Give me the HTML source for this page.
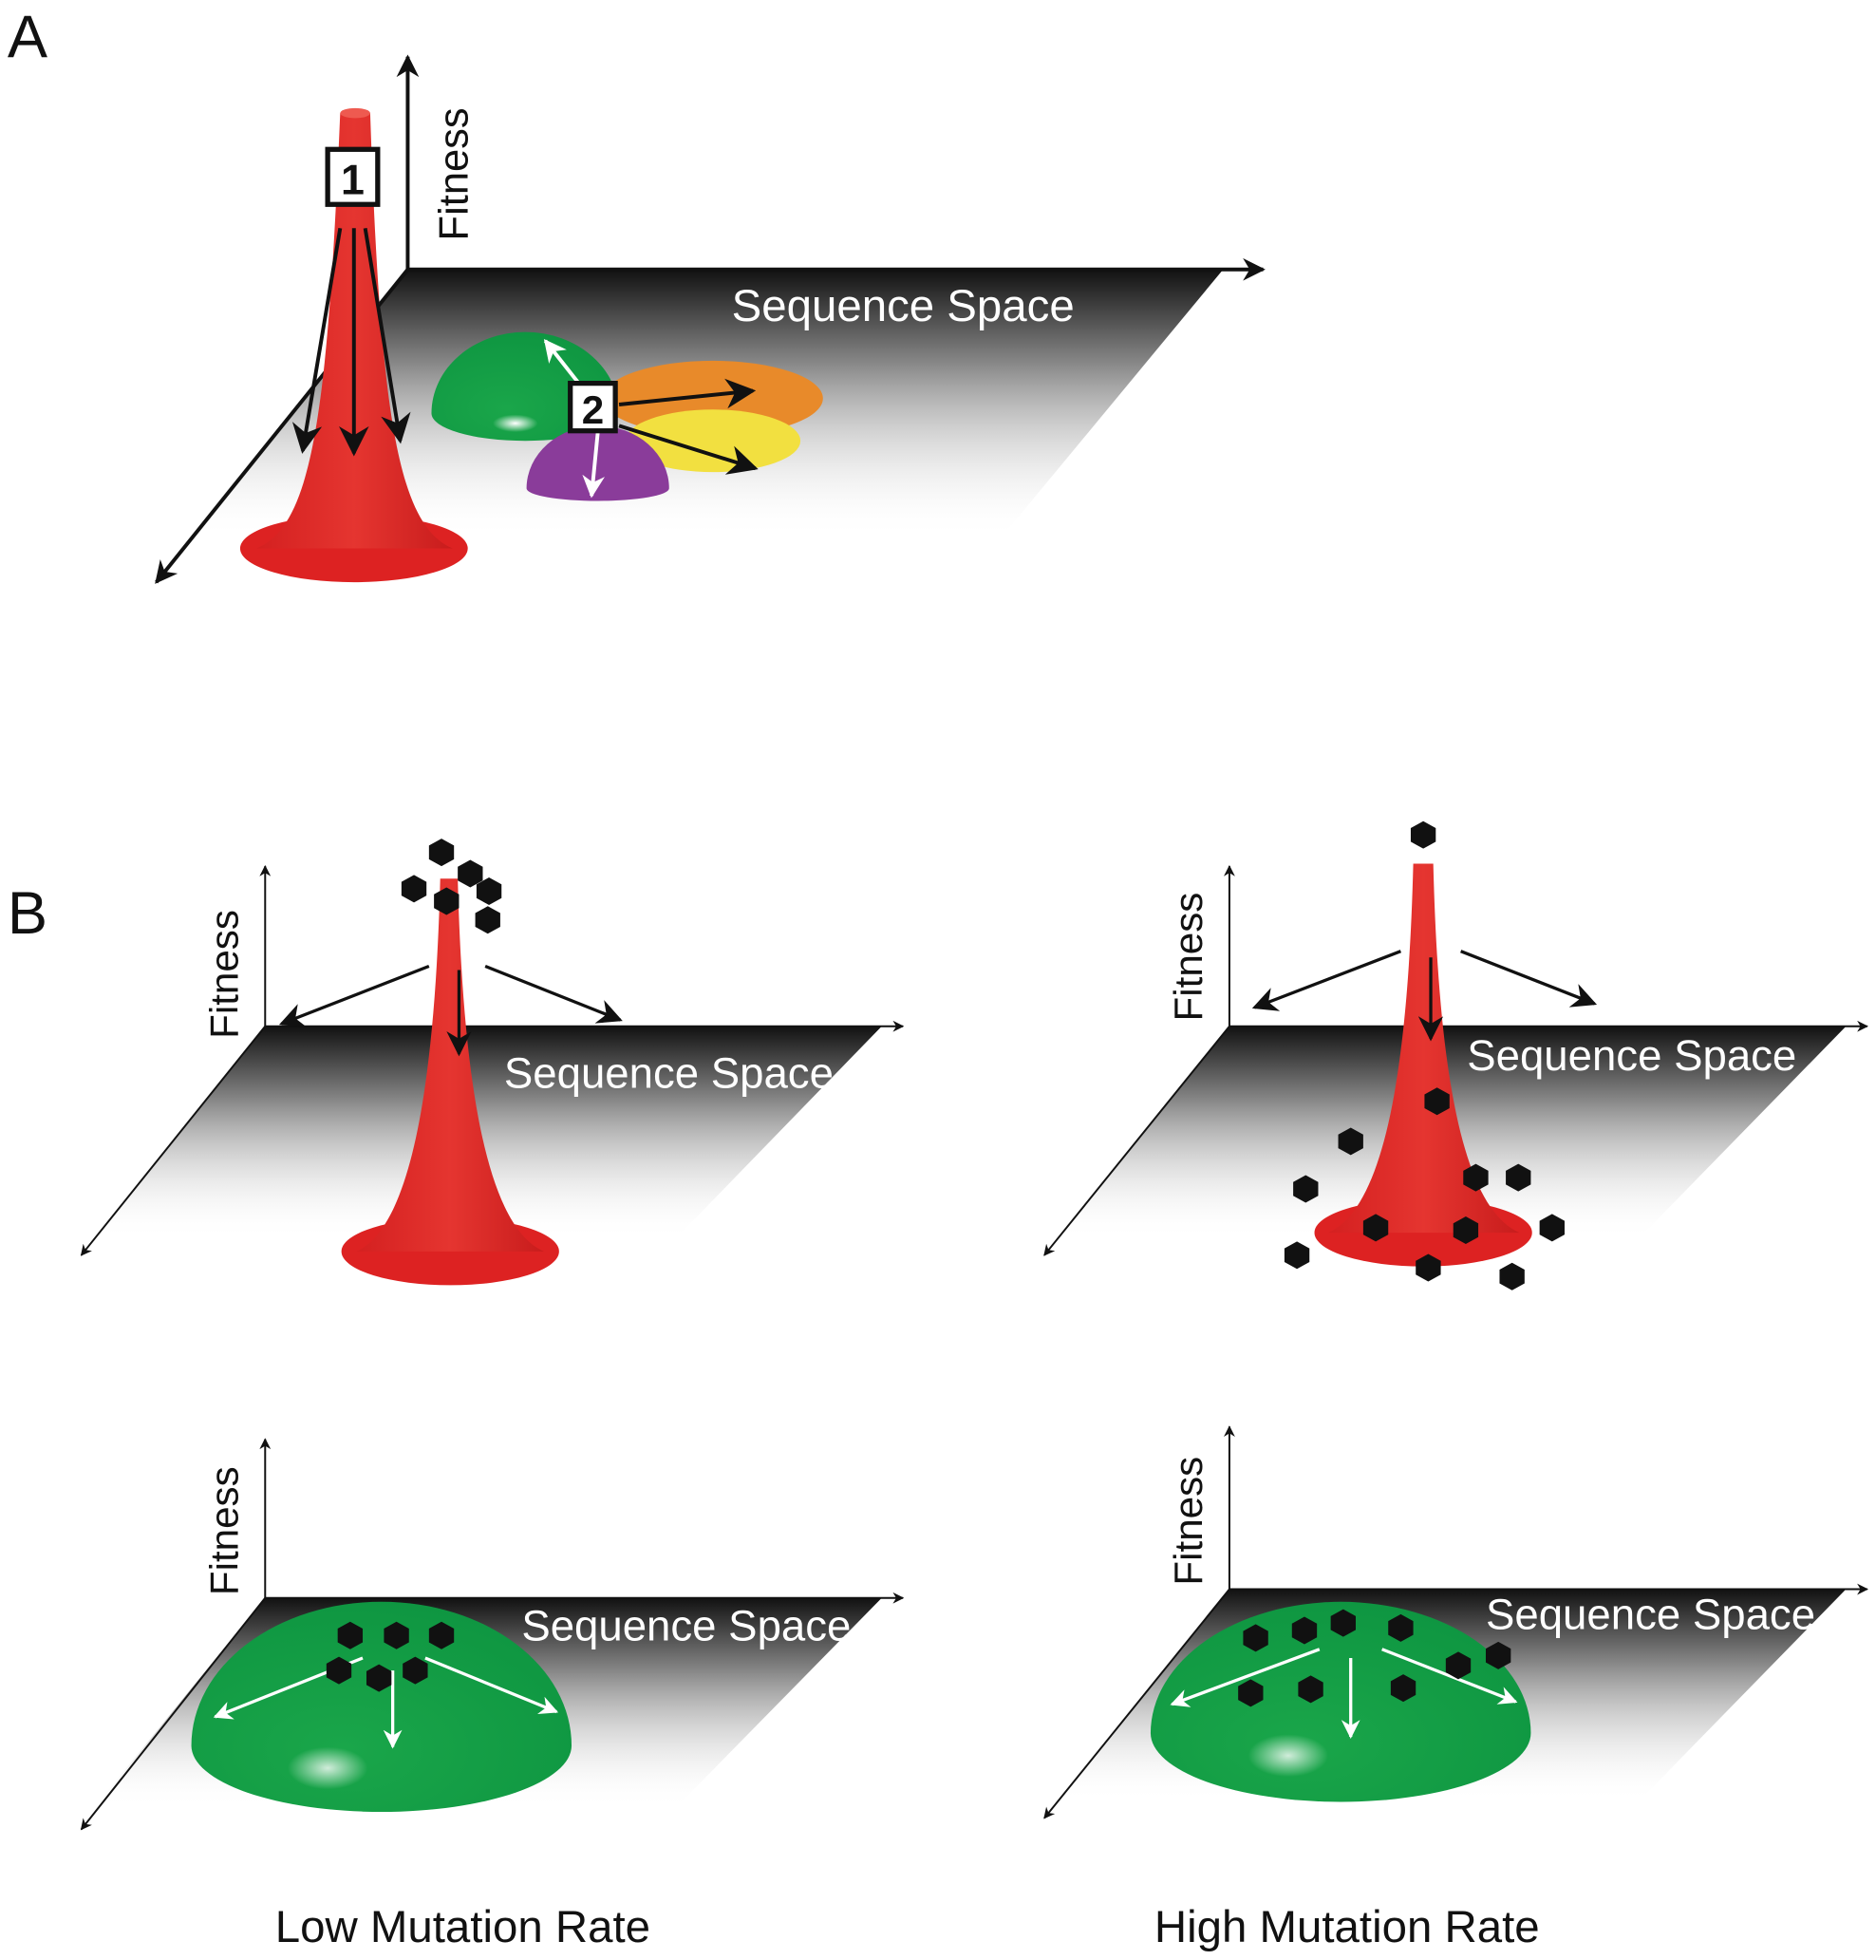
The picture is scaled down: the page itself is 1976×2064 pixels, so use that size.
<!DOCTYPE html>
<html><head><meta charset="utf-8"><style>html,body{margin:0;padding:0;background:#fff}svg{display:block}text{font-family:"Liberation Sans",sans-serif}</style></head>
<body>
<svg width="1976" height="2064" viewBox="0 0 1500 1566" xmlns="http://www.w3.org/2000/svg">
<defs>
<linearGradient id="plane" x1="0" y1="0" x2="0" y2="1"><stop offset="0" stop-color="#111"/><stop offset="0.35" stop-color="#888"/><stop offset="1" stop-color="#fff" stop-opacity="0"/></linearGradient>
<linearGradient id="red" x1="0" y1="0" x2="1" y2="0"><stop offset="0" stop-color="#d42020"/><stop offset="0.5" stop-color="#e53530"/><stop offset="1" stop-color="#c81c1c"/></linearGradient>
<radialGradient id="green" cx="0.4" cy="0.7" r="0.8"><stop offset="0" stop-color="#1aa64a"/><stop offset="1" stop-color="#0d9440"/></radialGradient>
<radialGradient id="spot" cx="0.5" cy="0.5" r="0.5"><stop offset="0" stop-color="#fff"/><stop offset="1" stop-color="#fff" stop-opacity="0"/></radialGradient>
<marker id="ah" viewBox="0 0 10 10" refX="9" refY="5" markerWidth="6" markerHeight="6" orient="auto"><path d="M0,0L10,5L0,10L3,5z" fill="#111"/></marker>
<marker id="ahw" viewBox="0 0 10 10" refX="9" refY="5" markerWidth="6" markerHeight="6" orient="auto"><path d="M0,0L10,5L0,10L3,5z" fill="#fff"/></marker>
<marker id="ahs" viewBox="0 0 10 10" refX="9" refY="5" markerWidth="8" markerHeight="8" orient="auto"><path d="M0,0L10,5L0,10L3,5z" fill="#111"/></marker>
<polygon id="hex" points="0,-11 10,-5.5 10,5.5 0,11 -10,5.5 -10,-5.5" fill="#111"/>
</defs>

<text x="6" y="45" font-size="48" fill="#111">A</text>
<g>
<polygon points="326,215 978,215 800,430 150,430" fill="url(#plane)"/>
<line x1="326" y1="215" x2="326" y2="45" stroke="#111" stroke-width="3" marker-end="url(#ah)"/>
<line x1="326" y1="215" x2="1010" y2="215" stroke="#111" stroke-width="3" marker-end="url(#ah)"/>
<line x1="326" y1="215" x2="125" y2="465" stroke="#111" stroke-width="3" marker-end="url(#ah)"/>
<text x="585" y="256" font-size="36" fill="#fff">Sequence Space</text>
<text transform="translate(374,192) rotate(-90)" font-size="33" fill="#111">Fitness</text>
<ellipse cx="283" cy="438" rx="91" ry="27" fill="#dd2222"/>
<path d="M205,438 C250,420 262,330 272,90 L296,90 C304,330 318,420 362,438 Z" fill="url(#red)"/>
<ellipse cx="284" cy="90" rx="12" ry="4" fill="#ee5a50"/>
<rect x="262" y="119" width="40" height="44" fill="#fff" stroke="#111" stroke-width="4"/>
<text x="282" y="155" font-size="34" font-weight="bold" text-anchor="middle" fill="#111">1</text>
<line x1="272" y1="182" x2="242" y2="360" stroke="#111" stroke-width="3" marker-end="url(#ahs)"/>
<line x1="283" y1="182" x2="283" y2="362" stroke="#111" stroke-width="3" marker-end="url(#ahs)"/>
<line x1="292" y1="182" x2="320" y2="352" stroke="#111" stroke-width="3" marker-end="url(#ahs)"/>
<path d="M345,330 A75,65 0 0 1 495,330 A75,22 0 0 1 345,330Z" fill="url(#green)"/>
<ellipse cx="412" cy="338" rx="18" ry="7" fill="url(#spot)"/>
<ellipse cx="570" cy="318" rx="88" ry="30" fill="#e88a2a"/>
<ellipse cx="570" cy="352" rx="70" ry="25" fill="#f2e040"/>
<path d="M421,390 A57,50 0 0 1 535,390 A57,10 0 0 1 421,390Z" fill="#8a3c9a"/>
<line x1="462" y1="305" x2="436" y2="272" stroke="#fff" stroke-width="3" marker-end="url(#ahw)"/>
<line x1="478" y1="345" x2="473" y2="396" stroke="#fff" stroke-width="3" marker-end="url(#ahw)"/>
<line x1="495" y1="323" x2="602" y2="312" stroke="#111" stroke-width="3" marker-end="url(#ahs)"/>
<line x1="495" y1="340" x2="604" y2="374" stroke="#111" stroke-width="3" marker-end="url(#ahs)"/>
<rect x="456" y="306" width="36" height="38" fill="#fff" stroke="#111" stroke-width="4"/>
<text x="474" y="338" font-size="32" font-weight="bold" text-anchor="middle" fill="#111">2</text>
</g>

<text x="6" y="746" font-size="48" fill="#111">B</text>

<g>
<polygon points="212,820 705,820 540,990 75,990" fill="url(#plane)"/>
<line x1="212" y1="820" x2="212" y2="692" stroke="#111" stroke-width="1.5" marker-end="url(#ah)"/>
<line x1="212" y1="820" x2="722" y2="820" stroke="#111" stroke-width="1.5" marker-end="url(#ah)"/>
<line x1="212" y1="820" x2="65" y2="1003" stroke="#111" stroke-width="1.5" marker-end="url(#ah)"/>
<text x="403" y="869" font-size="34.6" fill="#fff">Sequence Space</text>
<text transform="translate(190,830) rotate(-90)" font-size="32" fill="#111">Fitness</text>
<ellipse cx="360" cy="1000" rx="87" ry="27" fill="#dd2222"/>
<path d="M285,1000 C330,980 348,860 352,702 L366,702 C370,860 388,980 435,1000Z" fill="url(#red)"/>
<line x1="343" y1="772" x2="225" y2="818" stroke="#111" stroke-width="2.5" marker-end="url(#ahs)"/>
<line x1="388" y1="772" x2="496" y2="815" stroke="#111" stroke-width="2.5" marker-end="url(#ahs)"/>
<line x1="367" y1="775" x2="367" y2="842" stroke="#111" stroke-width="2.5" marker-end="url(#ahs)"/>
<use href="#hex" x="353" y="681"/><use href="#hex" x="331" y="710"/><use href="#hex" x="376" y="698"/><use href="#hex" x="391" y="712"/><use href="#hex" x="357" y="720"/><use href="#hex" x="390" y="735"/>
</g>

<g>
<polygon points="983,820 1476,820 1310,990 845,990" fill="url(#plane)"/>
<line x1="983" y1="820" x2="983" y2="692" stroke="#111" stroke-width="1.5" marker-end="url(#ah)"/>
<line x1="983" y1="820" x2="1493" y2="820" stroke="#111" stroke-width="1.5" marker-end="url(#ah)"/>
<line x1="983" y1="820" x2="835" y2="1003" stroke="#111" stroke-width="1.5" marker-end="url(#ah)"/>
<text x="1173" y="855" font-size="34.6" fill="#fff">Sequence Space</text>
<text transform="translate(961,816) rotate(-90)" font-size="32" fill="#111">Fitness</text>
<ellipse cx="1138" cy="985" rx="87" ry="27" fill="#dd2222"/>
<path d="M1062,985 C1108,965 1126,850 1130,690 L1146,690 C1150,850 1168,965 1215,985Z" fill="url(#red)"/>
<line x1="1120" y1="760" x2="1003" y2="805" stroke="#111" stroke-width="2.5" marker-end="url(#ahs)"/>
<line x1="1168" y1="760" x2="1275" y2="802" stroke="#111" stroke-width="2.5" marker-end="url(#ahs)"/>
<line x1="1144" y1="765" x2="1144" y2="830" stroke="#111" stroke-width="2.5" marker-end="url(#ahs)"/>
<use href="#hex" x="1138" y="667"/><use href="#hex" x="1149" y="880"/><use href="#hex" x="1080" y="912"/><use href="#hex" x="1044" y="950"/><use href="#hex" x="1180" y="941"/><use href="#hex" x="1214" y="941"/><use href="#hex" x="1100" y="981"/><use href="#hex" x="1172" y="983"/><use href="#hex" x="1241" y="981"/><use href="#hex" x="1037" y="1003"/><use href="#hex" x="1142" y="1013"/><use href="#hex" x="1209" y="1020"/>
</g>

<g>
<polygon points="212,1277 705,1277 540,1445 75,1445" fill="url(#plane)"/>
<line x1="212" y1="1277" x2="212" y2="1150" stroke="#111" stroke-width="1.5" marker-end="url(#ah)"/>
<line x1="212" y1="1277" x2="722" y2="1277" stroke="#111" stroke-width="1.5" marker-end="url(#ah)"/>
<line x1="212" y1="1277" x2="65" y2="1462" stroke="#111" stroke-width="1.5" marker-end="url(#ah)"/>
<text x="417" y="1311" font-size="34.6" fill="#fff">Sequence Space</text>
<text transform="translate(190,1275) rotate(-90)" font-size="32" fill="#111">Fitness</text>
<path d="M153,1395 A152,115 0 0 1 457,1395 A152,53 0 0 1 153,1395Z" fill="url(#green)"/>
<ellipse cx="262" cy="1413" rx="32" ry="17" fill="url(#spot)" opacity="0.8"/>
<line x1="290" y1="1325" x2="172" y2="1372" stroke="#fff" stroke-width="2.5" marker-end="url(#ahw)"/>
<line x1="340" y1="1325" x2="445" y2="1368" stroke="#fff" stroke-width="2.5" marker-end="url(#ahw)"/>
<line x1="314" y1="1335" x2="314" y2="1396" stroke="#fff" stroke-width="2.5" marker-end="url(#ahw)"/>
<use href="#hex" x="280" y="1307"/><use href="#hex" x="317" y="1307"/><use href="#hex" x="353" y="1307"/><use href="#hex" x="271" y="1335"/><use href="#hex" x="332" y="1335"/><use href="#hex" x="303" y="1341"/>
</g>

<g>
<polygon points="983,1270 1476,1270 1310,1440 845,1440" fill="url(#plane)"/>
<line x1="983" y1="1270" x2="983" y2="1140" stroke="#111" stroke-width="1.5" marker-end="url(#ah)"/>
<line x1="983" y1="1270" x2="1493" y2="1270" stroke="#111" stroke-width="1.5" marker-end="url(#ah)"/>
<line x1="983" y1="1270" x2="835" y2="1453" stroke="#111" stroke-width="1.5" marker-end="url(#ah)"/>
<text x="1188" y="1302" font-size="34.6" fill="#fff">Sequence Space</text>
<text transform="translate(961,1267) rotate(-90)" font-size="32" fill="#111">Fitness</text>
<path d="M920,1385 A152,105 0 0 1 1224,1385 A152,55 0 0 1 920,1385Z" fill="url(#green)"/>
<ellipse cx="1030" cy="1403" rx="32" ry="17" fill="url(#spot)" opacity="0.8"/>
<line x1="1055" y1="1318" x2="937" y2="1362" stroke="#fff" stroke-width="2.5" marker-end="url(#ahw)"/>
<line x1="1105" y1="1318" x2="1212" y2="1360" stroke="#fff" stroke-width="2.5" marker-end="url(#ahw)"/>
<line x1="1080" y1="1325" x2="1080" y2="1388" stroke="#fff" stroke-width="2.5" marker-end="url(#ahw)"/>
<use href="#hex" x="1004" y="1309"/><use href="#hex" x="1043" y="1303"/><use href="#hex" x="1074" y="1297"/><use href="#hex" x="1120" y="1301"/><use href="#hex" x="1198" y="1323"/><use href="#hex" x="1166" y="1331"/><use href="#hex" x="1000" y="1353"/><use href="#hex" x="1048" y="1350"/><use href="#hex" x="1122" y="1349"/>
</g>

<text x="370" y="1552" font-size="36" text-anchor="middle" fill="#111">Low Mutation Rate</text>
<text x="1077" y="1552" font-size="36" text-anchor="middle" fill="#111">High Mutation Rate</text>
</svg>
</body></html>
